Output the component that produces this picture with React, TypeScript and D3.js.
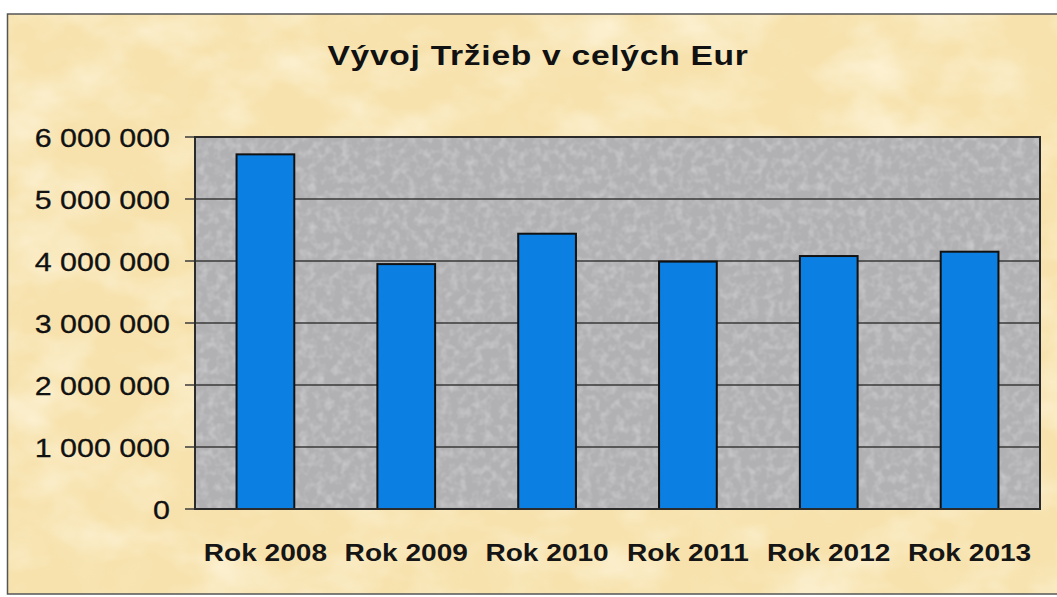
import React, { useEffect, useRef } from "react"
import * as d3 from "d3"

// data
const categories = ["Rok 2008", "Rok 2009", "Rok 2010", "Rok 2011", "Rok 2012", "Rok 2013"]
const values = [5720000, 3950000, 4440000, 3990000, 4080000, 4150000]
const yTicks = [0, 1000000, 2000000, 3000000, 4000000, 5000000, 6000000]
const title = "Vývoj Tržieb v celých Eur"

const W = 1057
const H = 597
const font = "'Liberation Sans', Arial, sans-serif"
const stretch = 1.17 // the original picture is a bit wider than tall

export default function App() {
  const ref = useRef<SVGSVGElement>(null)

  useEffect(() => {
    const svg = d3.select(ref.current)
    svg.selectAll("*").remove()

    const plot = { left: 195, right: 1040, top: 137, bottom: 509 }

    const defs = svg.append("defs")

    // parchment texture
    const paper = defs.append("filter").attr("id", "paper").attr("x", 0).attr("y", 0).attr("width", 1).attr("height", 1)
    paper.append("feTurbulence").attr("type", "fractalNoise").attr("baseFrequency", "0.012 0.018").attr("numOctaves", 4).attr("seed", 7).attr("result", "n")
    paper.append("feColorMatrix").attr("in", "n").attr("type", "matrix")
      .attr("values", "0 0 0 0 1  0 0 0 0 0.95  0 0 0 0 0.8  1.4 0 0 0 -0.6")
      .attr("result", "light")
    paper.append("feTurbulence").attr("type", "fractalNoise").attr("baseFrequency", "0.02").attr("numOctaves", 3).attr("seed", 21).attr("result", "n2")
    paper.append("feColorMatrix").attr("in", "n2").attr("type", "matrix")
      .attr("values", "0 0 0 0 0.93  0 0 0 0 0.8  0 0 0 0 0.48  0 1.6 0 0 -0.8")
      .attr("result", "dark")
    const pm = paper.append("feMerge")
    pm.append("feMergeNode").attr("in", "dark")
    pm.append("feMergeNode").attr("in", "light")

    // speckle for the grey plot area
    const grain = defs.append("filter").attr("id", "grain").attr("x", 0).attr("y", 0).attr("width", 1).attr("height", 1)
    grain.append("feTurbulence").attr("type", "fractalNoise").attr("baseFrequency", "0.12").attr("numOctaves", 2).attr("seed", 4).attr("result", "g")
    grain.append("feColorMatrix").attr("in", "g").attr("type", "matrix")
      .attr("values", "0 0 0 0 0.8  0 0 0 0 0.8  0 0 0 0 0.82  0.9 0 0 0 -0.38")

    // background
    svg.append("rect").attr("width", W).attr("height", H).attr("fill", "#ffffff")
    svg.append("rect").attr("x", 7).attr("y", 14).attr("width", W - 7).attr("height", 580).attr("fill", "#f7e2ad")
    svg.append("rect").attr("x", 7).attr("y", 14).attr("width", W - 7).attr("height", 580).attr("filter", "url(#paper)")
    svg.append("path")
      .attr("d", `M${W},14H7.5V594H${W}`)
      .attr("fill", "none").attr("stroke", "#555").attr("stroke-width", 1.5)

    const x = d3.scaleBand<string>()
      .domain(categories)
      .range([plot.left, plot.right])
      .paddingInner(0.59)
      .paddingOuter(0.295)

    const y = d3.scaleLinear()
      .domain([0, 6000000])
      .range([plot.bottom, plot.top])

    // plot area
    svg.append("rect")
      .attr("x", plot.left).attr("y", plot.top)
      .attr("width", plot.right - plot.left).attr("height", plot.bottom - plot.top)
      .attr("fill", "#b1b1b3")
    svg.append("rect")
      .attr("x", plot.left).attr("y", plot.top)
      .attr("width", plot.right - plot.left).attr("height", plot.bottom - plot.top)
      .attr("filter", "url(#grain)")

    // gridlines + ticks
    svg.append("g")
      .selectAll("line")
      .data(yTicks)
      .enter()
      .append("line")
      .attr("x1", plot.left - 10)
      .attr("x2", plot.right)
      .attr("y1", d => y(d))
      .attr("y2", d => y(d))
      .attr("stroke", "#3a3a3a")
      .attr("stroke-width", 1.4)

    const fmt = (d: number) => d3.format(",")(d).replace(/,/g, " ")

    svg.append("g")
      .selectAll("g")
      .data(yTicks)
      .enter()
      .append("g")
      .attr("transform", d => `translate(170,${y(d) + 9.5})`)
      .append("text")
      .attr("transform", `scale(${stretch},1)`)
      .attr("text-anchor", "end")
      .attr("font-family", font)
      .attr("font-size", 26)
      .attr("stroke", "#111")
      .attr("stroke-width", 0.3)
      .attr("fill", "#111")
      .text(d => fmt(d))

    // bars
    svg.append("g")
      .selectAll("rect")
      .data(values)
      .enter()
      .append("rect")
      .attr("x", (d, i) => x(categories[i]) as number)
      .attr("y", d => y(d))
      .attr("width", x.bandwidth())
      .attr("height", d => y(0) - y(d))
      .attr("fill", "#0b80e2")
      .attr("stroke", "#111")
      .attr("stroke-width", 2)

    // plot frame
    svg.append("rect")
      .attr("x", plot.left).attr("y", plot.top)
      .attr("width", plot.right - plot.left).attr("height", plot.bottom - plot.top)
      .attr("fill", "none")
      .attr("stroke", "#2a2a2a")
      .attr("stroke-width", 2)

    // category labels
    svg.append("g")
      .selectAll("g")
      .data(categories)
      .enter()
      .append("g")
      .attr("transform", d => `translate(${(x(d) as number) + x.bandwidth() / 2},561)`)
      .append("text")
      .attr("transform", `scale(${stretch},1)`)
      .attr("text-anchor", "middle")
      .attr("font-family", font)
      .attr("font-weight", "bold")
      .attr("font-size", 24)
      .attr("fill", "#151515")
      .text(d => d)

    // title
    svg.append("g")
      .attr("transform", "translate(538,65)")
      .append("text")
      .attr("transform", "scale(1.2,1)")
      .attr("text-anchor", "middle")
      .attr("font-family", font)
      .attr("font-weight", "bold")
      .attr("font-size", 28)
      .attr("letter-spacing", 0.6)
      .attr("fill", "#111")
      .text(title)
  }, [])

  return (
    <div style={{ position: "absolute", left: 0, top: 0 }}>
      <svg ref={ref} width={W} height={H} style={{ display: "block" }} />
    </div>
  )
}
